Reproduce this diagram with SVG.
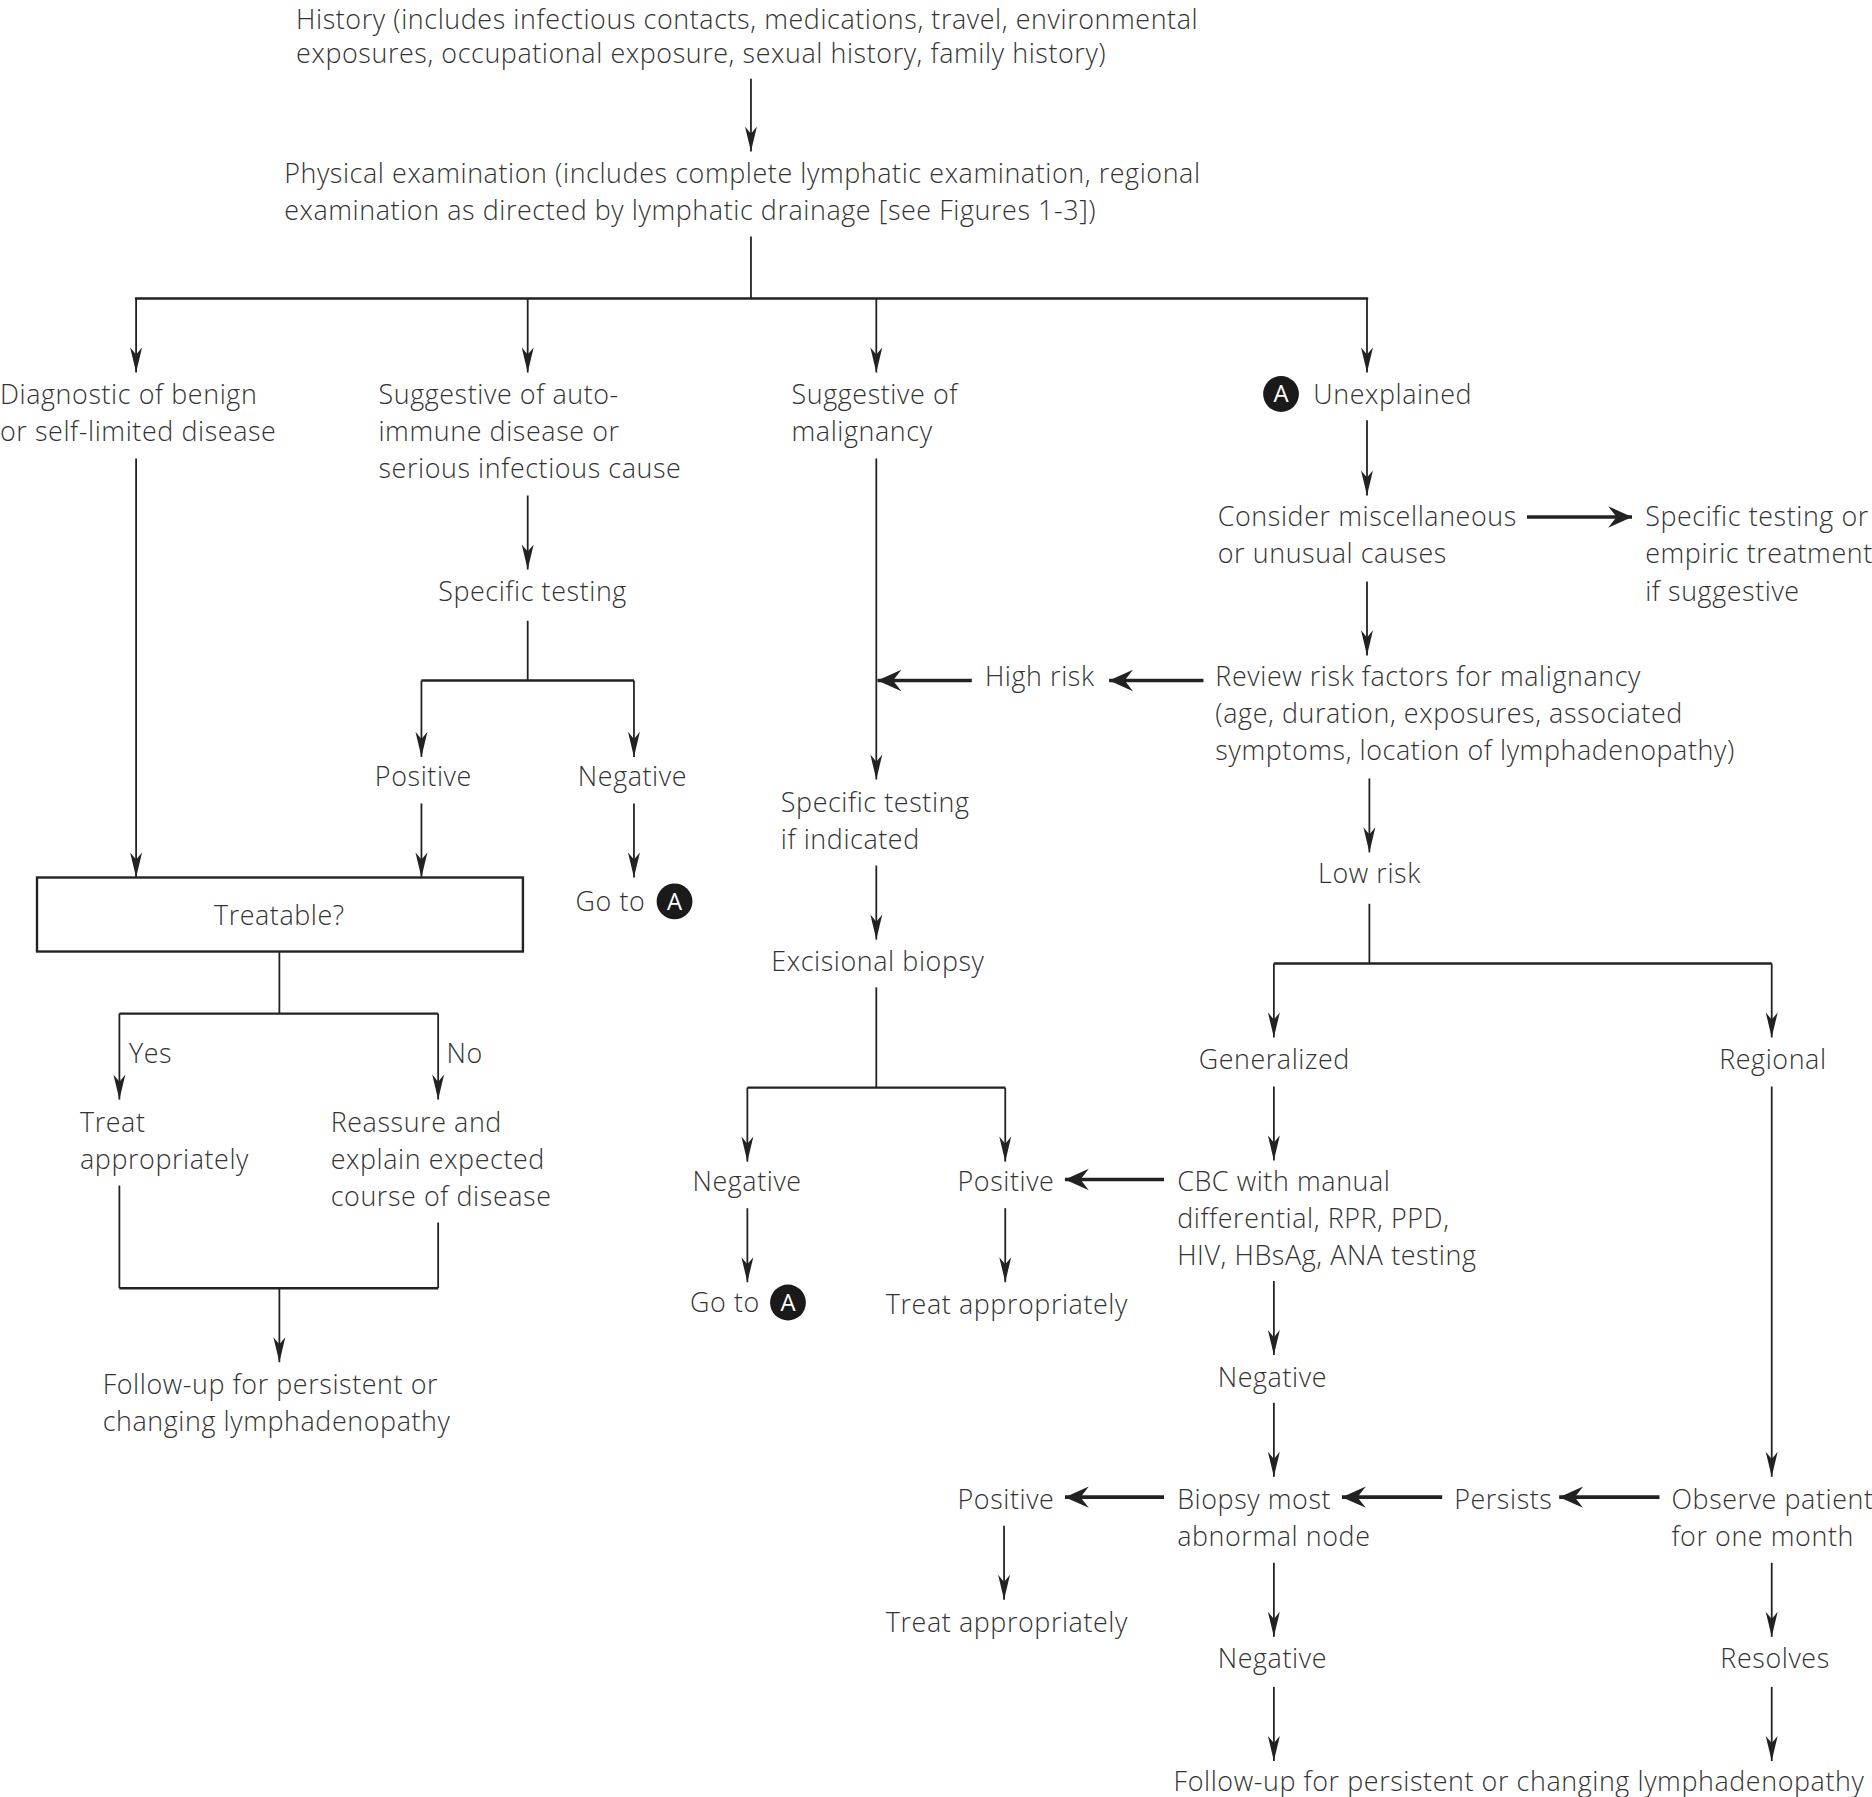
<svg xmlns="http://www.w3.org/2000/svg" width="1872" height="1797" viewBox="0 0 1872 1797">
<defs>
<style>
text{font-family:"Open Sans","Noto Sans","Liberation Sans",sans-serif;font-size:22.5px;font-weight:300;letter-spacing:0.5px;fill:#333}
.c{text-anchor:middle}
.ln{stroke:#222;stroke-width:1.5;fill:none}
.bar{stroke:#222;stroke-width:2;fill:none}
.thin{stroke:#222;stroke-width:1.5;fill:none;marker-end:url(#ah)}
.thick{stroke:#222;stroke-width:3;fill:none;marker-end:url(#ahb)}
.badge{fill:#1a1a1a}
.bt{fill:#fff;font-size:20px;font-weight:400;letter-spacing:0;text-anchor:middle}
</style>
<marker id="ah" markerUnits="userSpaceOnUse" viewBox="-22 -6 23 12" refX="0" refY="0" markerWidth="23" markerHeight="12" orient="auto">
<path d="M0,0 L-21,-5 L-15,0 L-21,5 Z" fill="#222"/>
</marker>
<marker id="ahb" markerUnits="userSpaceOnUse" viewBox="-21 -10 22 20" refX="0" refY="0" markerWidth="22" markerHeight="20" orient="auto">
<path d="M0,0 L-20,-9 L-13,0 L-20,9 Z" fill="#222"/>
</marker>
</defs>
<rect width="1872" height="1797" fill="#fff"/>
<g transform="scale(1.19388)">
<g id="connectors">
<line class="thin" x1="629" y1="66" x2="629" y2="127"/>
<line class="ln" x1="629" y1="198" x2="629" y2="250"/>
<line class="bar" x1="113" y1="250" x2="1146" y2="250"/>
<line class="thin" x1="114" y1="250" x2="114" y2="312"/>
<line class="thin" x1="442" y1="250" x2="442" y2="312"/>
<line class="thin" x1="734" y1="250" x2="734" y2="312"/>
<line class="thin" x1="1145" y1="250" x2="1145" y2="312"/>
<line class="thin" x1="114" y1="384" x2="114" y2="735"/>
<line class="thin" x1="442" y1="415" x2="442" y2="477"/>
<line class="ln" x1="442" y1="520" x2="442" y2="570"/>
<line class="bar" x1="353" y1="570" x2="531" y2="570"/>
<line class="thin" x1="353" y1="570" x2="353" y2="634"/>
<line class="thin" x1="531" y1="570" x2="531" y2="634"/>
<line class="thin" x1="353" y1="673" x2="353" y2="735"/>
<line class="thin" x1="531" y1="673" x2="531" y2="735"/>
<line class="ln" x1="234" y1="797" x2="234" y2="849"/>
<line class="bar" x1="100" y1="849" x2="367" y2="849"/>
<line class="thin" x1="100" y1="849" x2="100" y2="921"/>
<line class="thin" x1="367" y1="849" x2="367" y2="921"/>
<line class="ln" x1="100" y1="993" x2="100" y2="1079"/>
<line class="ln" x1="367" y1="1024" x2="367" y2="1079"/>
<line class="bar" x1="100" y1="1079" x2="367" y2="1079"/>
<line class="thin" x1="234" y1="1079" x2="234" y2="1141"/>
<line class="thin" x1="734" y1="384" x2="734" y2="653"/>
<line class="thick" x1="814" y1="570" x2="735" y2="570"/>
<line class="thick" x1="1008" y1="570" x2="929" y2="570"/>
<line class="thin" x1="734" y1="725" x2="734" y2="787"/>
<line class="ln" x1="734" y1="827" x2="734" y2="911"/>
<line class="bar" x1="626" y1="911" x2="842" y2="911"/>
<line class="thin" x1="626" y1="911" x2="626" y2="973"/>
<line class="thin" x1="842" y1="911" x2="842" y2="973"/>
<line class="thin" x1="626" y1="1012" x2="626" y2="1074"/>
<line class="thin" x1="842" y1="1012" x2="842" y2="1074"/>
<line class="thin" x1="1145" y1="352" x2="1145" y2="415"/>
<line class="thick" x1="1279" y1="433" x2="1367" y2="433"/>
<line class="thin" x1="1145" y1="487" x2="1145" y2="549"/>
<line class="thin" x1="1147" y1="652" x2="1147" y2="714"/>
<line class="ln" x1="1147" y1="757" x2="1147" y2="807"/>
<line class="bar" x1="1067" y1="807" x2="1484" y2="807"/>
<line class="thin" x1="1067" y1="807" x2="1067" y2="869"/>
<line class="thin" x1="1484" y1="807" x2="1484" y2="869"/>
<line class="thin" x1="1067" y1="910" x2="1067" y2="972"/>
<line class="thick" x1="975" y1="988" x2="892" y2="988"/>
<line class="thin" x1="1067" y1="1073" x2="1067" y2="1135"/>
<line class="thin" x1="1067" y1="1175" x2="1067" y2="1237"/>
<line class="thin" x1="1484" y1="910" x2="1484" y2="1237"/>
<line class="thick" x1="1390" y1="1254" x2="1306" y2="1254"/>
<line class="thick" x1="1208" y1="1254" x2="1124" y2="1254"/>
<line class="thick" x1="975" y1="1254" x2="892" y2="1254"/>
<line class="thin" x1="841" y1="1278" x2="841" y2="1340"/>
<line class="thin" x1="1067" y1="1309" x2="1067" y2="1371"/>
<line class="thin" x1="1484" y1="1309" x2="1484" y2="1371"/>
<line class="thin" x1="1067" y1="1413" x2="1067" y2="1475"/>
<line class="thin" x1="1484" y1="1413" x2="1484" y2="1475"/>
</g>
<g id="history"><text x="248" y="24">History (includes infectious contacts, medications, travel, environmental</text><text x="248" y="53">exposures, occupational exposure, sexual history, family history)</text></g>
<g id="physical"><text x="238" y="153">Physical examination (includes complete lymphatic examination, regional</text><text x="238" y="184">examination as directed by lymphatic drainage [see Figures 1-3])</text></g>
<g id="benign"><text x="0" y="338">Diagnostic of benign</text><text x="0" y="369">or self-limited disease</text></g>
<g id="autoimmune"><text x="317" y="338">Suggestive of auto-</text><text x="317" y="369">immune disease or</text><text x="317" y="400">serious infectious cause</text></g>
<g id="malignancy"><text x="663" y="338">Suggestive of</text><text x="663" y="369">malignancy</text></g>
<g id="unexplained"><circle class="badge" cx="1073" cy="330" r="15"/><text class="bt" x="1073" y="337">A</text><text x="1100" y="338">Unexplained</text></g>
<g id="specific1"><text x="367" y="503">Specific testing</text></g>
<g id="pos1"><text x="314" y="658">Positive</text></g>
<g id="neg1"><text x="484" y="658">Negative</text></g>
<g id="goto1"><text x="482" y="763">Go to</text><circle class="badge" cx="565" cy="755" r="15"/><text class="bt" x="565" y="762">A</text></g>
<g id="treatable"><rect x="31" y="735" width="407" height="62" fill="none" stroke="#222" stroke-width="2"/><text class="c" x="234" y="775">Treatable?</text></g>
<g id="yes"><text x="108" y="890">Yes</text></g>
<g id="no"><text x="374" y="890">No</text></g>
<g id="treat1"><text x="67" y="948">Treat</text><text x="67" y="979">appropriately</text></g>
<g id="reassure"><text x="277" y="948">Reassure and</text><text x="277" y="979">explain expected</text><text x="277" y="1010">course of disease</text></g>
<g id="followup1"><text x="86" y="1168">Follow-up for persistent or</text><text x="86" y="1199">changing lymphadenopathy</text></g>
<g id="highrisk"><text x="825" y="575">High risk</text></g>
<g id="specific2"><text x="654" y="680">Specific testing</text><text x="654" y="711">if indicated</text></g>
<g id="excisional"><text x="646" y="813">Excisional biopsy</text></g>
<g id="neg2"><text x="580" y="998">Negative</text></g>
<g id="pos2"><text x="802" y="998">Positive</text></g>
<g id="goto2"><text x="578" y="1099">Go to</text><circle class="badge" cx="660" cy="1091" r="15"/><text class="bt" x="660" y="1098">A</text></g>
<g id="treat2"><text x="742" y="1101">Treat appropriately</text></g>
<g id="consider"><text x="1020" y="441">Consider miscellaneous</text><text x="1020" y="472">or unusual causes</text></g>
<g id="empiric"><text x="1378" y="441">Specific testing or</text><text x="1378" y="472">empiric treatment</text><text x="1378" y="503">if suggestive</text></g>
<g id="review"><text x="1018" y="575">Review risk factors for malignancy</text><text x="1018" y="606">(age, duration, exposures, associated</text><text x="1018" y="637">symptoms, location of lymphadenopathy)</text></g>
<g id="lowrisk"><text x="1104" y="740">Low risk</text></g>
<g id="generalized"><text x="1004" y="895">Generalized</text></g>
<g id="regional"><text x="1440" y="895">Regional</text></g>
<g id="cbc"><text x="986" y="998">CBC with manual</text><text x="986" y="1029">differential, RPR, PPD,</text><text x="986" y="1060">HIV, HBsAg, ANA testing</text></g>
<g id="neg3"><text x="1020" y="1162">Negative</text></g>
<g id="biopsy"><text x="986" y="1264">Biopsy most</text><text x="986" y="1295">abnormal node</text></g>
<g id="persists"><text x="1218" y="1264">Persists</text></g>
<g id="observe"><text x="1400" y="1264">Observe patient</text><text x="1400" y="1295">for one month</text></g>
<g id="pos3"><text x="802" y="1264">Positive</text></g>
<g id="treat3"><text x="742" y="1367">Treat appropriately</text></g>
<g id="neg4"><text x="1020" y="1397">Negative</text></g>
<g id="resolves"><text x="1441" y="1397">Resolves</text></g>
<g id="followup2"><text x="983" y="1500">Follow-up for persistent or changing lymphadenopathy</text></g>
</g>
</svg>
